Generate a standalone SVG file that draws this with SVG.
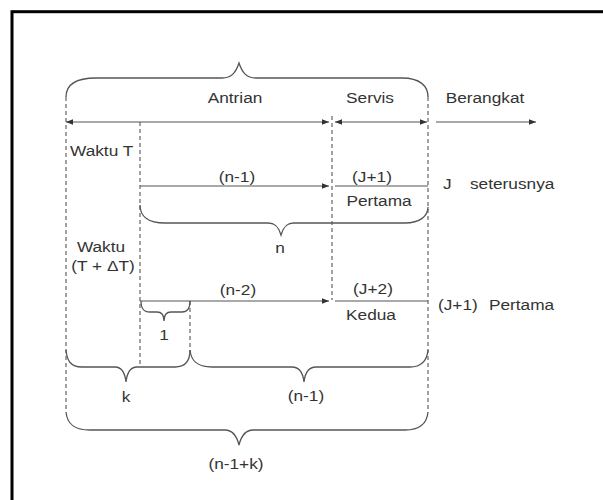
<svg xmlns="http://www.w3.org/2000/svg" width="603" height="500" viewBox="0 0 603 500">
<style>
.t{font-family:"Liberation Sans",Arial,sans-serif;font-size:15px;fill:#333}
.m{text-anchor:middle}
.d{stroke:#444;stroke-width:1;stroke-dasharray:4,3;fill:none}
.l{stroke:#555;stroke-width:1.2;fill:none}
.b{stroke:#555;stroke-width:1.3;fill:none}
</style>
<defs>
<marker id="ah" viewBox="0 0 10 10" refX="10" refY="5" markerWidth="7" markerHeight="7" markerUnits="userSpaceOnUse" orient="auto-start-reverse">
<path d="M0,1 L10,5 L0,9 Z" fill="#333"/>
</marker>
</defs>
<rect x="0" y="0" width="603" height="500" fill="#fff"/>
<rect id="frame" x="12" y="11.7" width="700" height="600" fill="none" stroke="#000" stroke-width="3"/>
<g id="guides">
<line class="d" x1="66" y1="97" x2="66" y2="412"/>
<line class="d" x1="140" y1="122" x2="140" y2="367"/>
<line class="d" x1="332" y1="116" x2="332" y2="300"/>
<line class="d" x1="428" y1="97" x2="428" y2="412"/>
<line class="d" x1="190" y1="301" x2="190" y2="350"/>
</g>
<g id="connectors">
<line class="l" x1="66" y1="122" x2="329" y2="122" marker-start="url(#ah)" marker-end="url(#ah)"/>
<line class="l" x1="335" y1="122" x2="427" y2="122" marker-start="url(#ah)" marker-end="url(#ah)"/>
<line class="l" x1="436" y1="122" x2="536" y2="122" marker-end="url(#ah)"/>
<line class="l" x1="140" y1="186" x2="329" y2="186" marker-end="url(#ah)"/>
<line class="l" x1="335" y1="186" x2="428" y2="186"/>
<line class="l" x1="140" y1="301" x2="329" y2="301" marker-end="url(#ah)"/>
<line class="l" x1="335" y1="301" x2="428" y2="301"/>
</g>
<g id="braces">
<path id="brace-top" class="b" d="M66,97 C66,85 74,78 96,78 L222,78 C232,78 236,72 239,63 C242,72 246,78 256,78 L402,78 C420,78 428,86 428,97"/>
<path id="brace-n" class="b" d="M140,205 C140,216 148,223 165,223 L268,223 C276,223 279,228 281,235 C283,228 286,223 294,223 L405,223 C420,223 428,216 428,207"/>
<path id="brace-1" class="b" d="M141,301 C141,308 143,312 150,312 L157,312 C162,312 164,315 164,321 C164,315 166,312 171,312 L182,312 C188,312 190,308 190,301"/>
<path id="brace-k" class="b" d="M66,350 C67,360 70,367 82,367 L115,367 C122,367 125,373 126,382 C127,373 130,367 137,367 L175,367 C186,367 190,360 190,350"/>
<path id="brace-n1" class="b" d="M190,350 C191,360 196,367 212,367 L292,367 C300,367 303,373 304,382 C305,373 308,367 316,367 L410,367 C422,367 427,360 428,350"/>
<path id="brace-total" class="b" d="M66,412 C67,423 73,430 90,430 L225,430 C233,430 237,437 239,445 C241,437 245,430 253,430 L405,430 C420,430 427,423 428,412"/>
</g>
<g id="labels">
<g id="lbl-antrian"><text class="t m" transform="matrix(1.15 0 0 1 235 103)">Antrian</text></g>
<g id="lbl-servis"><text class="t m" transform="matrix(1.15 0 0 1 370 103)">Servis</text></g>
<g id="lbl-berangkat"><text class="t m" transform="matrix(1.15 0 0 1 485 103)">Berangkat</text></g>
<g id="lbl-waktuT"><text class="t" transform="matrix(1.15 0 0 1 70 156)">Waktu T</text></g>
<g id="lbl-n1a"><text class="t m" transform="matrix(1.15 0 0 1 237 182)">(n-1)</text></g>
<g id="lbl-J1a"><text class="t m" transform="matrix(1.15 0 0 1 372 182)">(J+1)</text></g>
<g id="lbl-J"><text class="t" transform="matrix(1.15 0 0 1 443 189)">J</text></g>
<g id="lbl-seterusnya"><text class="t" transform="matrix(1.15 0 0 1 470 189)">seterusnya</text></g>
<g id="lbl-pertama1"><text class="t m" transform="matrix(1.15 0 0 1 379 206)">Pertama</text></g>
<g id="lbl-n"><text class="t m" transform="matrix(1.15 0 0 1 280 253)">n</text></g>
<g id="lbl-waktu2"><text class="t m" transform="matrix(1.15 0 0 1 101 252)">Waktu</text></g>
<g id="lbl-tdt"><text class="t m" transform="matrix(1.15 0 0 1 103 271)">(T + ΔT)</text></g>
<g id="lbl-n2"><text class="t m" transform="matrix(1.15 0 0 1 238 295)">(n-2)</text></g>
<g id="lbl-J2"><text class="t m" transform="matrix(1.15 0 0 1 373 294)">(J+2)</text></g>
<g id="lbl-kedua"><text class="t m" transform="matrix(1.15 0 0 1 371 320)">Kedua</text></g>
<g id="lbl-J1b"><text class="t" transform="matrix(1.15 0 0 1 438 310)">(J+1)</text></g>
<g id="lbl-pertama2"><text class="t" transform="matrix(1.15 0 0 1 489 310)">Pertama</text></g>
<g id="lbl-1"><text class="t m" transform="matrix(1.15 0 0 1 164 340)">1</text></g>
<g id="lbl-k"><text class="t m" transform="matrix(1.15 0 0 1 126 402)">k</text></g>
<g id="lbl-n1b"><text class="t m" transform="matrix(1.15 0 0 1 306 401)">(n-1)</text></g>
<g id="lbl-total"><text class="t m" transform="matrix(1.15 0 0 1 236 469)">(n-1+k)</text></g>
</g>
</svg>
